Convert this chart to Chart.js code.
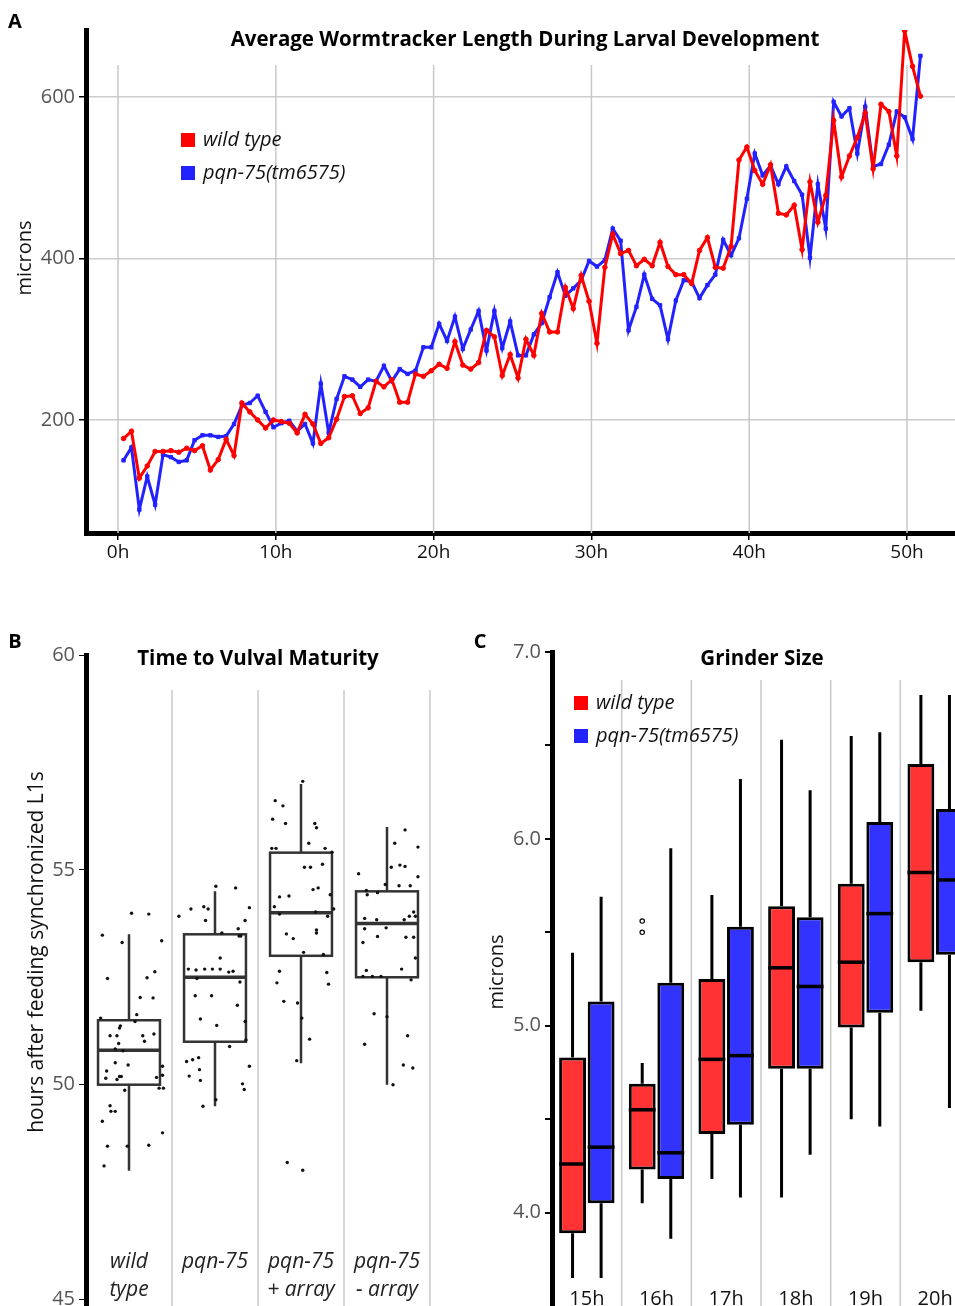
<!DOCTYPE html>
<html>
<head>
<meta charset="utf-8">
<script src="https://cdn.jsdelivr.net/npm/chart.js@4.4.0/dist/chart.umd.min.js"></script>
<style>
  html, body { margin: 0; padding: 0; background: #fff; width: 955px; height: 1306px; overflow: hidden; }
  canvas { position: absolute; }
  #lengthChart { left: 0; top: 0; }
  #vulvaChart { left: 0; top: 630px; }
  #grinderChart { left: 460px; top: 630px; }
</style>
</head>
<body>
<canvas id="lengthChart" width="955" height="590"></canvas>
<canvas id="vulvaChart" width="460" height="676"></canvas>
<canvas id="grinderChart" width="520" height="676"></canvas>
<script>
// --- A: wormtracker length, one sample every half hour ---
const hours = [
  0.35, 0.85, 1.35, 1.85, 2.35, 2.85, 3.35, 3.85, 4.35, 4.85,
  5.35, 5.85, 6.35, 6.85, 7.35, 7.85, 8.35, 8.85, 9.35, 9.85,
  10.35, 10.85, 11.35, 11.85, 12.35, 12.85, 13.35, 13.85, 14.35, 14.85,
  15.35, 15.85, 16.35, 16.85, 17.35, 17.85, 18.35, 18.85, 19.35, 19.85,
  20.35, 20.85, 21.35, 21.85, 22.35, 22.85, 23.35, 23.85, 24.35, 24.85,
  25.35, 25.85, 26.35, 26.85, 27.35, 27.85, 28.35, 28.85, 29.35, 29.85,
  30.35, 30.85, 31.35, 31.85, 32.35, 32.85, 33.35, 33.85, 34.35, 34.85,
  35.35, 35.85, 36.35, 36.85, 37.35, 37.85, 38.35, 38.85, 39.35, 39.85,
  40.35, 40.85, 41.35, 41.85, 42.35, 42.85, 43.35, 43.85, 44.35, 44.85,
  45.35, 45.85, 46.35, 46.85, 47.35, 47.85, 48.35, 48.85, 49.35, 49.85,
  50.35, 50.85
];
const wildTypeLength = [
  177, 186, 128, 143, 161, 161, 162, 160, 165, 162,
  168, 138, 151, 176, 156, 221, 210, 200, 190, 200,
  198, 196, 184, 207, 195, 171, 178, 201, 229, 230,
  208, 215, 248, 241, 250, 222, 222, 257, 254, 261,
  269, 264, 297, 268, 263, 271, 311, 303, 255, 281,
  252, 300, 280, 332, 309, 309, 364, 338, 379, 347,
  295, 389, 430, 406, 410, 391, 399, 391, 420, 390,
  380, 380, 369, 410, 426, 389, 388, 415, 522, 538,
  509, 492, 516, 456, 454, 466, 411, 495, 445, 478,
  571, 501, 527, 550, 580, 511, 591, 582, 527, 682,
  638, 601
];
const pqnLength = [
  150, 166, 89, 130, 95, 157, 154, 148, 150, 175,
  181, 181, 179, 180, 195, 218, 221, 230, 210, 191,
  196, 199, 186, 195, 171, 245, 184, 226, 254, 250,
  241, 250, 248, 267, 248, 263, 257, 261, 290, 290,
  319, 298, 328, 288, 312, 335, 286, 335, 289, 322,
  280, 280, 306, 320, 352, 383, 354, 363, 373, 397,
  390, 398, 437, 422, 311, 340, 380, 350, 342, 300,
  348, 373, 371, 351, 367, 380, 423, 404, 425, 474,
  530, 503, 515, 492, 514, 496, 479, 401, 492, 437,
  594, 576, 586, 530, 588, 514, 517, 541, 582, 575,
  548, 651
];
const hourTicks = [0, 10, 20, 30, 40, 50];
const lengthTicks = [200, 400, 600];
const seriesNames = ['wild type', 'pqn-75(tm6575)'];

// --- B: time to vulval maturity (hours) ---
const strainLabels = [['wild', 'type'], ['pqn-75'], ['pqn-75', '+ array'], ['pqn-75', '- array']];
const maturityMin = [48.0, 49.5, 50.5, 50.0];
const maturityQ1 = [50.0, 51.0, 53.0, 52.5];
const maturityMedian = [50.8, 52.5, 54.0, 53.75];
const maturityQ3 = [51.5, 53.5, 55.4, 54.5];
const maturityMax = [53.5, 54.5, 57.0, 56.0];
const maturityTicks = [45, 50, 55, 60];
// jittered observations: [offset from strain, hours]
const maturityPoints = [
  [[-0.31, 53.48], [-0.08, 53.31], [0.03, 53.99], [0.23, 53.97], [0.38, 53.35], [-0.25, 52.47], [0.30, 52.63],
   [0.21, 52.49], [0.13, 52.03], [0.28, 52.02], [-0.33, 51.55], [0.09, 51.63], [-0.10, 51.37], [-0.11, 51.32],
   [0.07, 51.47], [-0.14, 51.14], [-0.22, 51.14], [0.16, 51.14], [0.29, 51.18], [-0.12, 50.96], [-0.16, 50.83],
   [-0.07, 50.79], [0.18, 51.01], [-0.16, 50.51], [-0.26, 50.32], [-0.11, 50.19], [-0.01, 50.46], [-0.09, 50.19],
   [-0.14, 50.12], [-0.27, 50.15], [0.32, 50.17], [0.39, 50.43], [0.39, 50.22], [0.35, 49.92], [0.40, 49.92],
   [-0.05, 49.87], [-0.22, 49.51], [-0.21, 49.38], [-0.16, 49.38], [-0.31, 49.15], [0.39, 48.88], [-0.25, 48.57],
   [-0.02, 48.57], [0.23, 48.59], [-0.29, 48.11]],
  [[-0.42, 53.92], [-0.28, 54.09], [-0.13, 54.14], [-0.08, 54.09], [0.01, 54.62], [0.24, 54.58], [0.40, 54.12],
   [-0.11, 53.82], [0.35, 53.82], [0.27, 53.63], [0.08, 53.53], [0.28, 53.46], [0.30, 53.46], [0.06, 52.95],
   [-0.31, 52.69], [-0.22, 52.67], [-0.21, 52.47], [-0.12, 52.69], [-0.03, 52.69], [0.06, 52.69], [0.16, 52.62],
   [0.21, 52.64], [0.29, 52.39], [-0.23, 52.07], [-0.04, 52.07], [0.26, 51.85], [-0.17, 51.53], [0.02, 51.38],
   [0.35, 51.47], [0.36, 51.04], [0.17, 50.89], [-0.33, 50.54], [-0.26, 50.58], [-0.19, 50.63], [0.40, 50.43],
   [-0.30, 50.20], [-0.18, 50.35], [-0.17, 50.10], [0.32, 50.02], [0.34, 49.89], [0.01, 49.65], [-0.14, 49.50]],
  [[-0.30, 56.61], [-0.21, 56.49], [0.02, 57.06], [-0.33, 56.18], [-0.18, 56.08], [0.16, 56.08], [0.18, 55.98],
   [0.09, 55.62], [-0.29, 55.50], [-0.34, 55.50], [0.28, 55.50], [0.36, 55.41], [-0.25, 54.37], [-0.14, 54.39],
   [0.04, 55.06], [0.11, 55.06], [0.25, 55.13], [0.14, 54.54], [0.20, 54.58], [0.34, 54.42], [0.38, 54.09],
   [-0.31, 54.14], [-0.25, 53.97], [0.17, 54.02], [0.31, 53.92], [0.18, 53.60], [0.18, 53.53], [-0.17, 53.51],
   [-0.09, 53.40], [0.03, 53.08], [0.26, 53.03], [-0.25, 52.64], [0.30, 52.61], [0.32, 52.34], [-0.28, 52.37],
   [-0.20, 51.94], [-0.04, 51.90], [0.01, 51.55], [0.10, 51.06], [-0.05, 50.56], [-0.16, 48.19], [0.02, 48.01]],
  [[-0.33, 54.91], [0.09, 55.62], [0.21, 55.93], [0.36, 55.53], [0.05, 55.06], [0.15, 55.11], [0.21, 55.08],
   [0.36, 54.84], [-0.02, 54.66], [0.14, 54.63], [0.27, 54.63], [-0.24, 54.52], [-0.11, 54.47], [-0.23, 54.42],
   [-0.26, 53.87], [-0.12, 53.84], [-0.26, 53.63], [-0.01, 53.65], [0.20, 53.84], [0.26, 53.92], [0.31, 54.02],
   [0.33, 53.92], [-0.11, 53.45], [-0.28, 53.31], [0.22, 53.43], [0.31, 53.43], [0.33, 52.95], [-0.24, 52.66],
   [-0.28, 52.52], [-0.17, 52.52], [-0.07, 52.52], [0.17, 52.69], [0.28, 52.44], [-0.15, 51.65], [0.00, 51.58],
   [-0.26, 50.94], [0.24, 51.14], [0.19, 50.46], [0.30, 50.39], [0.07, 50.00]]
];

// --- C: grinder size (microns) ---
const grinderHours = ['15h', '16h', '17h', '18h', '19h', '20h'];
const wtMin = [3.65, 4.05, 4.18, 4.08, 4.50, 5.08];
const wtQ1 = [3.89, 4.23, 4.42, 4.77, 4.99, 5.34];
const wtMedian = [4.26, 4.55, 4.82, 5.31, 5.34, 5.82];
const wtQ3 = [4.83, 4.69, 5.25, 5.64, 5.76, 6.40];
const wtMax = [5.39, 4.80, 5.70, 6.53, 6.55, 6.77];
const wtOutliers = [[], [5.56, 5.50], [], [], [], []];
const pqnMin = [3.65, 3.86, 4.08, 4.31, 4.46, 4.56];
const pqnQ1 = [4.05, 4.18, 4.47, 4.77, 5.07, 5.38];
const pqnMedian = [4.35, 4.32, 4.84, 5.21, 5.60, 5.78];
const pqnQ3 = [5.13, 5.23, 5.53, 5.58, 6.09, 6.16];
const pqnMax = [5.69, 5.95, 6.32, 6.26, 6.57, 6.77];
const grinderTicks = [4.0, 4.5, 5.0, 5.5, 6.0, 6.5, 7.0];

const FONT = "'Open Sans', 'Noto Sans', sans-serif";
const RED = '#ff0000';
const BLUE = '#2222ff';

function drawText(ctx, text, x, y, font, color, align = 'center', rotate = 0, baseline = 'middle') {
  ctx.save();
  ctx.translate(x, y);
  if (rotate) ctx.rotate(rotate);
  ctx.font = font;
  ctx.fillStyle = color;
  ctx.textAlign = align;
  ctx.textBaseline = baseline;
  ctx.fillText(text, 0, 0);
  ctx.restore();
}

// light vertical rules that stop short of the title
function drawRules(chart, values, gap) {
  const { ctx, chartArea, scales: { x } } = chart;
  ctx.save();
  ctx.strokeStyle = '#c8c8c8';
  ctx.lineWidth = 1.5;
  values.forEach(v => {
    const px = x.getPixelForValue(v);
    ctx.beginPath();
    ctx.moveTo(px, chartArea.top + gap);
    ctx.lineTo(px, chartArea.bottom);
    ctx.stroke();
  });
  ctx.restore();
}

function drawKey(ctx, x, y, items) {
  items.forEach((it, i) => {
    const yy = y + i * 33;
    ctx.fillStyle = it.color;
    ctx.fillRect(x, yy - 7, 14, 14);
    drawText(ctx, it.label, x + 22, yy, `italic 20px ${FONT}`, '#111', 'left');
  });
}

// keep the plot area exactly where the layout padding puts it
function noEdgePadding(s) {
  s.paddingTop = 0;
  s.paddingBottom = 0;
  s.paddingLeft = 0;
  s.paddingRight = 0;
}

const yTickFont = { family: FONT, size: 20 };
const titleFont = `bold 20.5px ${FONT}`;

// ---------------- A ----------------
new Chart(document.getElementById('lengthChart'), {
  type: 'line',
  data: {
    datasets: [
      {
        label: seriesNames[0],
        data: hours.map((h, i) => ({ x: h, y: wildTypeLength[i] })),
        borderColor: RED, backgroundColor: RED,
        borderWidth: 3, pointRadius: 2.3, pointBorderWidth: 1, pointStyle: 'circle', tension: 0
      },
      {
        label: seriesNames[1],
        data: hours.map((h, i) => ({ x: h, y: pqnLength[i] })),
        borderColor: BLUE, backgroundColor: BLUE,
        borderWidth: 3, pointRadius: 2.4, pointBorderWidth: 1, pointStyle: 'rect', tension: 0
      }
    ]
  },
  options: {
    responsive: false,
    animation: false,
    layout: { autoPadding: false, padding: { top: 30, right: 0, bottom: 0, left: 0 } },
    plugins: { legend: { display: false }, tooltip: { enabled: false } },
    scales: {
      x: {
        type: 'linear', min: -2.03, max: 53.04,
        afterBuildTicks: s => { s.ticks = hourTicks.map(v => ({ value: v })); },
        afterFit: s => { s.height = 57; noEdgePadding(s); },
        border: { color: '#000', width: 5 },
        grid: { drawOnChartArea: false, color: '#000', tickLength: 7, lineWidth: 1.5 },
        ticks: { callback: v => v + 'h', color: '#111', font: { family: FONT, size: 19 }, padding: 1, maxRotation: 0 }
      },
      y: {
        min: 60, max: 683,
        afterBuildTicks: s => { s.ticks = lengthTicks.map(v => ({ value: v })); },
        afterFit: s => { s.width = 86; noEdgePadding(s); },
        border: { color: '#000', width: 5 },
        grid: { color: '#cccccc', lineWidth: 1.5, tickColor: '#000', tickLength: 7 },
        ticks: { color: '#555', font: yTickFont, padding: 4 }
      }
    }
  },
  plugins: [{
    id: 'panelA',
    beforeDatasetsDraw(chart) {
      drawRules(chart, hourTicks, 35);
    },
    afterDraw(chart) {
      const ctx = chart.ctx;
      drawText(ctx, 'A', 15, 22, `bold 20px ${FONT}`, '#000');
      drawText(ctx, 'Average Wormtracker Length During Larval Development', 525, 40, titleFont, '#000');
      drawText(ctx, 'microns', 25, 258, `20px ${FONT}`, '#111', 'center', -Math.PI / 2);
      drawKey(ctx, 181, 140, [{ color: RED, label: seriesNames[0] }, { color: BLUE, label: seriesNames[1] }]);
    }
  }]
});

// ---------------- B ----------------
new Chart(document.getElementById('vulvaChart'), {
  type: 'scatter',
  data: {
    datasets: [{
      data: maturityPoints.flatMap((pts, g) => pts.map(([dx, v]) => ({ x: g + dx, y: v }))),
      backgroundColor: '#111', borderWidth: 0, pointRadius: 1.7
    }]
  },
  options: {
    responsive: false,
    animation: false,
    layout: { autoPadding: false, padding: { top: 25, right: 30, bottom: 0, left: 0 } },
    plugins: { legend: { display: false }, tooltip: { enabled: false } },
    scales: {
      x: { type: 'linear', min: -0.5, max: 3.5, display: false },
      y: {
        min: 44.85, max: 60,
        afterBuildTicks: s => { s.ticks = maturityTicks.map(v => ({ value: v })); },
        afterFit: s => { s.width = 86; noEdgePadding(s); },
        border: { color: '#000', width: 5 },
        grid: { drawOnChartArea: false, color: '#000', tickLength: 7 },
        ticks: { color: '#555', font: yTickFont, padding: 4 }
      }
    }
  },
  plugins: [{
    id: 'panelB',
    beforeDatasetsDraw(chart) {
      const { ctx, scales: { x, y } } = chart;
      drawRules(chart, [0.5, 1.5, 2.5, 3.5], 35);
      ctx.save();
      ctx.strokeStyle = '#333';
      ctx.lineWidth = 2.5;
      maturityMedian.forEach((m, i) => {
        const cx = x.getPixelForValue(i);
        const half = x.getPixelForValue(i + 0.36) - cx;
        const top = y.getPixelForValue(maturityQ3[i]);
        const bot = y.getPixelForValue(maturityQ1[i]);
        ctx.beginPath();
        ctx.moveTo(cx, y.getPixelForValue(maturityMax[i]));
        ctx.lineTo(cx, top);
        ctx.moveTo(cx, bot);
        ctx.lineTo(cx, y.getPixelForValue(maturityMin[i]));
        ctx.stroke();
        ctx.strokeRect(cx - half, top, half * 2, bot - top);
        ctx.lineWidth = 3.5;
        ctx.beginPath();
        ctx.moveTo(cx - half, y.getPixelForValue(m));
        ctx.lineTo(cx + half, y.getPixelForValue(m));
        ctx.stroke();
        ctx.lineWidth = 2.5;
      });
      ctx.restore();
    },
    afterDraw(chart) {
      const { ctx, scales: { x } } = chart;
      drawText(ctx, 'B', 15, 12, `bold 20px ${FONT}`, '#000');
      drawText(ctx, 'Time to Vulval Maturity', 258, 29, titleFont, '#000');
      drawText(ctx, 'hours after feeding synchronized L1s', 37, 322, `21px ${FONT}`, '#111', 'center', -Math.PI / 2);
      strainLabels.forEach((lines, i) => {
        lines.forEach((t, k) => {
          drawText(ctx, t, x.getPixelForValue(i), 632 + k * 28, `italic 21px ${FONT}`, '#222');
        });
      });
    }
  }]
});

// ---------------- C ----------------
const grinderSeries = [
  { name: seriesNames[0], min: wtMin, q1: wtQ1, med: wtMedian, q3: wtQ3, max: wtMax, out: wtOutliers, fill: '#ff3333', key: RED },
  { name: seriesNames[1], min: pqnMin, q1: pqnQ1, med: pqnMedian, q3: pqnQ3, max: pqnMax, out: [[], [], [], [], [], []], fill: '#3333ff', key: BLUE }
];

new Chart(document.getElementById('grinderChart'), {
  type: 'bar',
  data: {
    labels: grinderHours,
    datasets: grinderSeries.map(s => ({
      label: s.name,
      data: s.q1.map((q, i) => [q, s.q3[i]]),
      backgroundColor: s.fill,
      borderColor: '#000',
      borderWidth: 3,
      borderSkipped: false,
      categoryPercentage: 0.82,
      barPercentage: 0.94
    }))
  },
  options: {
    responsive: false,
    animation: false,
    layout: { autoPadding: false, padding: { top: 22, right: 10, bottom: 0, left: 0 } },
    plugins: { legend: { display: false }, tooltip: { enabled: false } },
    scales: {
      x: { display: false },
      y: {
        min: 3.5, max: 7.0,
        afterBuildTicks: s => { s.ticks = grinderTicks.map(v => ({ value: v })); },
        afterFit: s => { s.width = 92; noEdgePadding(s); },
        border: { color: '#000', width: 5 },
        grid: { drawOnChartArea: false, color: '#000', tickLength: 7, lineWidth: 2 },
        ticks: { color: '#555', font: yTickFont, padding: 4, callback: v => Number.isInteger(v) ? v.toFixed(1) : '' }
      }
    }
  },
  plugins: [{
    id: 'panelC',
    beforeDatasetsDraw(chart) {
      const { ctx, scales: { y } } = chart;
      drawRules(chart, [0.5, 1.5, 2.5, 3.5, 4.5], 28);
      ctx.save();
      ctx.strokeStyle = '#000';
      ctx.lineWidth = 3;
      grinderSeries.forEach((s, d) => {
        chart.getDatasetMeta(d).data.forEach((bar, i) => {
          ctx.beginPath();
          ctx.moveTo(bar.x, y.getPixelForValue(s.max[i]));
          ctx.lineTo(bar.x, y.getPixelForValue(s.q3[i]));
          ctx.moveTo(bar.x, y.getPixelForValue(s.q1[i]));
          ctx.lineTo(bar.x, y.getPixelForValue(s.min[i]));
          ctx.stroke();
        });
      });
      ctx.restore();
    },
    afterDatasetsDraw(chart) {
      const { ctx, scales: { y } } = chart;
      ctx.save();
      ctx.strokeStyle = '#000';
      grinderSeries.forEach((s, d) => {
        chart.getDatasetMeta(d).data.forEach((bar, i) => {
          const half = bar.width / 2;
          const my = y.getPixelForValue(s.med[i]);
          ctx.lineWidth = 3.5;
          ctx.beginPath();
          ctx.moveTo(bar.x - half, my);
          ctx.lineTo(bar.x + half, my);
          ctx.stroke();
          ctx.lineWidth = 1.2;
          s.out[i].forEach(v => {
            ctx.beginPath();
            ctx.arc(bar.x, y.getPixelForValue(v), 2.2, 0, Math.PI * 2);
            ctx.stroke();
          });
        });
      });
      ctx.restore();
    },
    afterDraw(chart) {
      const { ctx, scales: { x } } = chart;
      drawText(ctx, 'C', 20, 12, `bold 20px ${FONT}`, '#000');
      drawText(ctx, 'Grinder Size', 302, 29, titleFont, '#000');
      drawText(ctx, 'microns', 37, 342, `20px ${FONT}`, '#111', 'center', -Math.PI / 2);
      drawKey(ctx, 114, 73, grinderSeries.map(s => ({ color: s.key, label: s.name })));
      grinderHours.forEach((h, i) => {
        drawText(ctx, h, x.getPixelForValue(i), 659, `20px ${FONT}`, '#111', 'center', 0, 'top');
      });
    }
  }]
});
</script>
</body>
</html>
